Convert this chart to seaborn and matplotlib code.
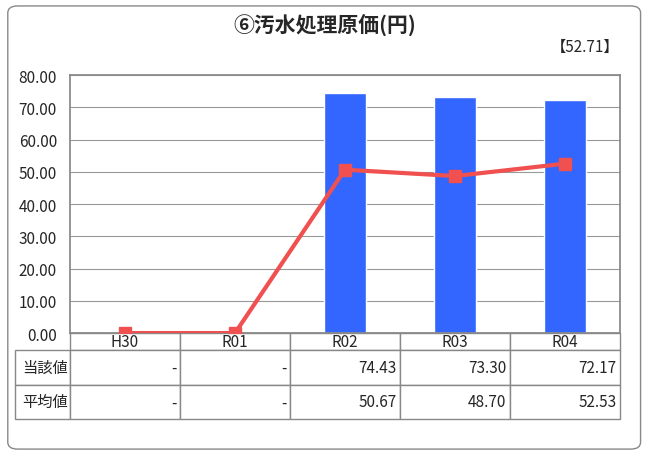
import matplotlib
matplotlib.use("Agg")
import matplotlib.pyplot as plt
import seaborn as sns
import pandas as pd
from matplotlib.patches import FancyBboxPatch

sns.set_theme(style="white")
plt.rcParams['font.family'] = ['Noto Sans CJK JP', 'DejaVu Sans']

categories = ["H30", "R01", "R02", "R03", "R04"]
current = [0, 0, 74.43, 73.30, 72.17]
average = [0, 0, 50.67, 48.70, 52.53]
current_txt = ["-", "-", "74.43", "73.30", "72.17"]
average_txt = ["-", "-", "50.67", "48.70", "52.53"]
row_labels = ["当該値", "平均値"]

fig = plt.figure(figsize=(6.49, 4.64), dpi=100)
fig.patches.append(FancyBboxPatch((0.012, 0.03), 0.975, 0.955, boxstyle="round,pad=0,rounding_size=0.015",
                                  transform=fig.transFigure, fill=False, ec="#888888", lw=1))
ax = fig.add_axes([0.108, 0.28, 0.847, 0.556])
df = pd.DataFrame({"cat": categories, "val": current})
sns.barplot(data=df, x="cat", y="val", color="#3366FF", saturation=1, width=0.38, ax=ax)
ax.plot(range(5), average, color="#F05050", lw=3, marker="s", ms=8, zorder=5)
ax.set_ylim(0, 80)
ax.set_yticks(range(0, 81, 10))
ax.set_yticklabels([f"{v:.2f}" for v in range(0, 81, 10)], fontsize=11)
ax.yaxis.grid(True, color="#999999", lw=0.8)
ax.set_axisbelow(True)
ax.set_xlabel(""); ax.set_ylabel("")
ax.set_xticks([])
ax.set_xlim(-0.5, 4.5)
for s in ax.spines.values():
    s.set_color("#888888")

cell = [[""] + categories, [row_labels[0]] + current_txt, [row_labels[1]] + average_txt]
tbl = ax.table(cellText=cell, bbox=[-0.1, -0.333, 1.1, 0.333], cellLoc="right",
               colWidths=[0.1] + [0.2] * 5)
tbl.auto_set_font_size(False)
for (r, c), cl in tbl.get_celld().items():
    cl.set_edgecolor("#888888")
    cl.set_text_props(fontsize=11)
    if r == 0:
        cl.set_text_props(ha="center")
        cl._loc = "center"
        cl.set_height(0.2 / 3)
    else:
        cl.set_height(0.4 / 3)
    if c == 0:
        cl._loc = "left"
tbl[0, 0].visible_edges = "open"
for c in range(6):
    tbl[0, c]._loc = "center"
    tbl[1, c].PAD = 0.03; tbl[2, c].PAD = 0.03

fig.text(0.5, 0.945, "⑥汚水処理原価(円)", ha="center", va="center", fontsize=15, fontweight="bold")
fig.text(0.955, 0.898, "【52.71】", ha="right", va="center", fontsize=11)
fig.savefig("out.png", dpi=100)
